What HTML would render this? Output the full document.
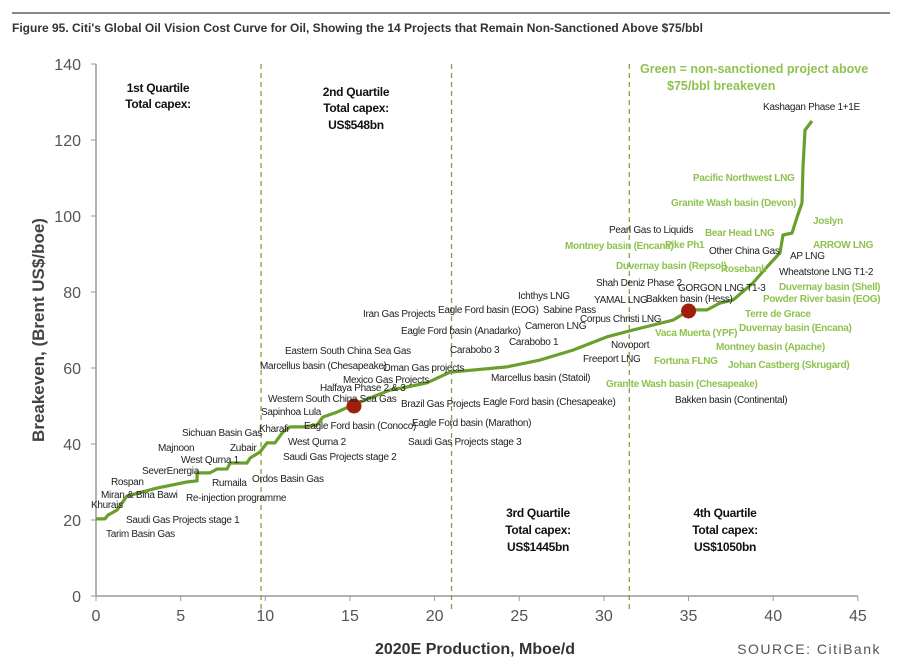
<!DOCTYPE html>
<html><head><meta charset="utf-8"><style>
body{margin:0;background:#fff;width:900px;height:670px;overflow:hidden;font-family:"Liberation Sans",Arial,sans-serif}
svg{position:absolute;left:0;top:0}
.lb{font-size:10px;fill:#222;letter-spacing:-0.3px}
.gl{font-size:10px;fill:#8fc24f;font-weight:bold;letter-spacing:-0.3px}
.tk{font-size:16px;fill:#555}
.q{font-size:12px;font-weight:bold;fill:#111;text-anchor:middle;letter-spacing:-0.3px}
</style></head><body>
<svg width="900" height="670" id="chart">
<line x1="12" y1="13" x2="890" y2="13" stroke="#888" stroke-width="2"/>
<text x="12" y="32" font-size="12" font-weight="bold" fill="#333">Figure 95. Citi's Global Oil Vision Cost Curve for Oil, Showing the 14 Projects that Remain Non-Sanctioned Above $75/bbl</text>
<g id="axes"></g>
<g id="quart"></g>
<g id="marks"></g>
<g id="labels"></g>
<text x="640" y="73" font-size="12.5" font-weight="bold" fill="#8fc24f">Green = non-sanctioned project above</text>
<text x="667" y="90" font-size="12.5" font-weight="bold" fill="#8fc24f">$75/bbl breakeven</text>
<text transform="translate(44,330) rotate(-90)" text-anchor="middle" font-size="17" font-weight="bold" fill="#444">Breakeven, (Brent US$/boe)</text>
<text x="475" y="654" text-anchor="middle" font-size="16" font-weight="bold" fill="#333">2020E Production, Mboe/d</text>
<text x="881" y="654" text-anchor="end" font-size="14" fill="#555" letter-spacing="1.5">SOURCE: CitiBank</text>
</svg>
<script>
const production=[0,0.53,0.71,1.24,1.83,3.6,5.37,5.97,5.97,6.73,7.15,7.74,7.92,8.92,9.1,9.69,10.1,10.57,11.05,11.46,12.23,13.05,13.41,14.24,15.18,16.36,17.37,18.37,19.55,20.91,24.28,26.23,28.17,30.18,31.72,34.08,35.09,36.09,36.86,37.63,38.81,39.63,40.4,40.58,41.11,41.41,41.7,41.76,41.88,42.29];
const breakeven=[20.3,20.3,21.3,22.6,26.3,28.4,30.0,30.3,32.4,32.4,33.4,33.4,35.0,35.0,36.3,37.9,40.3,40.3,43.2,44.5,44.5,45.0,47.1,48.4,50.3,52.4,54.2,55.0,56.1,58.9,60.3,62.1,64.7,68.2,70.0,72.6,75.3,75.3,77.1,77.9,82.4,86.6,90.3,95.0,95.5,99.7,103.4,112.9,122.6,125.0];
const dotX=[15.24,35.0];
const dotY=[50,75];
const quartileBounds=[9.75,21.0,31.5];
const xTicks=[0,5,10,15,20,25,30,35,40,45];
const yTicks=[0,20,40,60,80,100,120,140];
const NS="http://www.w3.org/2000/svg";
const sx=v=>96+v*16.93, sy=v=>596-v*3.8;
function mk(t,a,p){const e=document.createElementNS(NS,t);for(const k in a)e.setAttribute(k,a[k]);p.appendChild(e);return e;}
const ax=document.getElementById('axes');
let l=mk('line',{x1:96,y1:sy(0),x2:sx(45),y2:sy(0),stroke:'#999','stroke-width':1.5},ax);


l=mk('line',{x1:96,y1:sy(140),x2:96,y2:sy(0),stroke:'#999','stroke-width':1.5},ax);


xTicks.forEach(v=>{mk('line',{x1:sx(v),y1:596,x2:sx(v),y2:601,stroke:'#999'},ax);
const t=mk('text',{x:sx(v),y:621,'text-anchor':'middle',class:'tk'},ax);t.textContent=v;

});
yTicks.forEach(v=>{mk('line',{x1:91,y1:sy(v),x2:96,y2:sy(v),stroke:'#999'},ax);
const t=mk('text',{x:81,y:sy(v)+6,'text-anchor':'end',class:'tk'},ax);t.textContent=v;

});
quartileBounds.forEach(v=>{const d=mk('line',{x1:sx(v),y1:64,x2:sx(v),y2:610,stroke:'#7aa83a','stroke-width':1.3,'stroke-dasharray':'5,4'},ax);

});
const q=document.getElementById('quart');
[[158,[88,104],['1st Quartile','Total capex:']],[356,[92,108,125],['2nd Quartile','Total capex:','US$548bn']],[538,[513,530,547],['3rd Quartile','Total capex:','US$1445bn']],[725,[513,530,547],['4th Quartile','Total capex:','US$1050bn']]].forEach((g,i)=>{g[2].forEach((s,j)=>{const t=mk('text',{x:g[0],y:g[1][j]+4,class:'q'},q);t.textContent=s;

});});
const m=document.getElementById('marks');
const p=mk('polyline',{points:production.map((v,i)=>sx(v)+','+sy(breakeven[i])).join(' '),fill:'none',stroke:'#6b9f2c','stroke-width':3.2,'stroke-linejoin':'round'},m);


dotX.forEach((v,i)=>{const c=mk('circle',{cx:sx(v),cy:sy(dotY[i]),r:7.5,fill:'#a01e0c'},m);

});
const black=[["Kashagan Phase 1+1E",763,106],["Pearl Gas to Liquids",609,229],["Other China Gas",709,250],["AP LNG",790,255],["Wheatstone LNG T1-2",779,271],["Shah Deniz Phase 2",596,282],["GORGON LNG T1-3",678,287],["YAMAL LNG",594,299],["Bakken basin (Hess)",646,298],["Ichthys LNG",518,295],["Iran Gas Projects",363,313],["Eagle Ford basin (EOG)",438,309],["Sabine Pass",543,309],["Corpus Christi LNG",580,318],["Cameron LNG",525,325],["Eagle Ford basin (Anadarko)",401,330],["Carabobo 1",509,341],["Novoport",611,344],["Carabobo 3",450,349],["Eastern South China Sea Gas",285,350],["Freeport LNG",583,358],["Marcellus basin (Chesapeake)",260,365],["Oman Gas projects",383,367],["Marcellus basin (Statoil)",491,377],["Mexico Gas Projects",343,379],["Halfaya Phase 2 & 3",320,387],["Western South China Sea Gas",268,398],["Brazil Gas Projects",401,403],["Eagle Ford basin (Chesapeake)",483,401],["Bakken basin (Continental)",675,399],["Sapinhoa Lula",261,411],["Eagle Ford basin (Conoco)",304,425],["Kharafi",259,428],["Eagle Ford basin (Marathon)",412,422],["Sichuan Basin Gas",182,432],["Saudi Gas Projects stage 3",408,441],["West Qurna 2",288,441],["Majnoon",158,447],["Zubair",230,447],["Saudi Gas Projects stage 2",283,456],["West Qurna 1",181,459],["SeverEnergia",142,470],["Ordos Basin Gas",252,478],["Rumaila",212,482],["Rospan",111,481],["Miran & Bina Bawi",101,494],["Re-injection programme",186,497],["Khurais",91,504],["Saudi Gas Projects stage 1",126,519],["Tarim Basin Gas",106,533]];
const green=[["Pacific Northwest LNG",693,177],["Granite Wash basin (Devon)",671,202],["Joslyn",813,220],["Bear Head LNG",705,232],["Montney basin (Encana)",565,245],["Pike Ph1",665,244],["ARROW LNG",813,244],["Duvernay basin (Repsol)",616,265],["Rosebank",721,268],["Duvernay basin (Shell)",779,286],["Powder River basin (EOG)",763,298],["Terre de Grace",745,313],["Duvernay basin (Encana)",739,327],["Vaca Muerta (YPF)",655,332],["Montney basin (Apache)",716,346],["Fortuna FLNG",654,360],["Johan Castberg (Skrugard)",728,364],["Granite Wash basin (Chesapeake)",606,383]];
const L=document.getElementById('labels');
black.forEach(a=>{const t=mk('text',{x:a[1],y:a[2]+4,class:'lb'},L);t.textContent=a[0];

});
green.forEach(a=>{const t=mk('text',{x:a[1],y:a[2]+4,class:'gl'},L);t.textContent=a[0];

});
</script>
</body></html>
